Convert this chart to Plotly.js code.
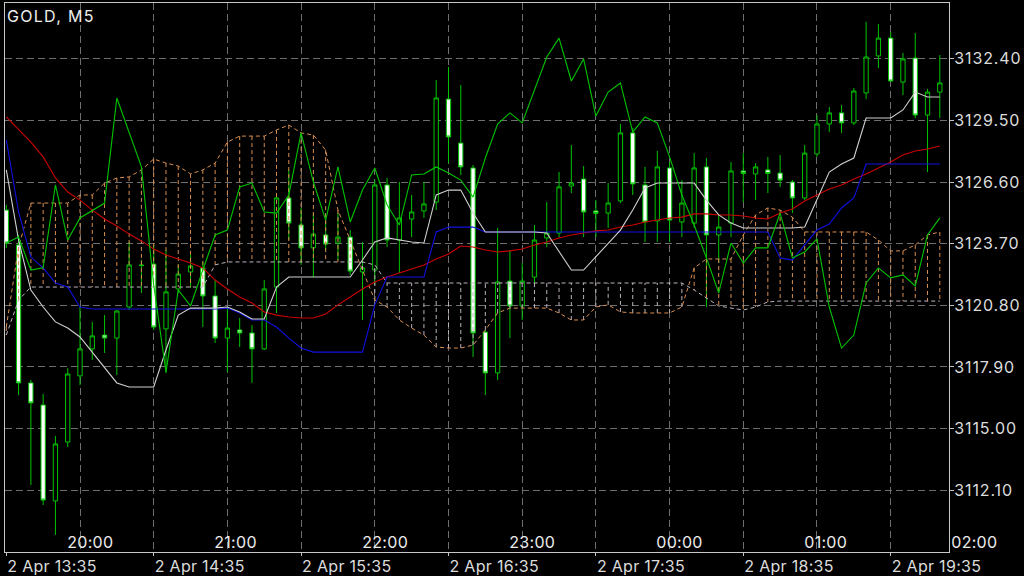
<!DOCTYPE html>
<html><head><meta charset="utf-8">
<script src="https://cdn.plot.ly/plotly-3.0.1.min.js"></script>
<style>html,body{margin:0;padding:0;background:#000;}#chart{width:1024px;height:576px;}
#chart .gtitle{letter-spacing:1.3px;}
#chart .ytick text{letter-spacing:0.9px;}
#chart .xtick text{letter-spacing:0.3px;}
#chart .annotation-text{letter-spacing:0.3px;}
</style>
</head><body><div id="chart"></div>
<script>
// ---- data (GOLD, M5) ----
const opens = [3125.28,3123.64,3117.15,3116.11,3111.60,3114.37,3117.48,3118.75,3119.40,3119.26,
3120.72,3122.70,3122.74,3119.69,3121.57,3122.37,3122.56,3121.24,3119.26,3119.64,
3119.50,3118.75,3121.66,3125.85,3124.58,3123.50,3124.11,3123.73,3124.01,3122.37,
3122.46,3126.46,3123.87,3124.86,3125.24,3125.66,3130.50,3128.43,3127.26,3119.54,
3117.62,3121.94,3120.77,3122.13,3123.97,3124.20,3126.41,3126.74,3125.24,3125.14,
3125.71,3128.91,3126.46,3124.77,3127.26,3124.72,3124.67,3127.31,3124.11,3124.67,
3127.12,3126.98,3127.17,3127.02,3126.60,3125.85,3127.92,3129.33,3129.85,3129.38,
3130.79,3132.53,3133.37,3131.30,3132.43,3129.75,3130.83];
const highs = [3125.52,3124.11,3117.29,3116.63,3114.65,3117.85,3120.72,3120.02,3120.34,3120.58,
3123.78,3122.93,3123.64,3123.40,3122.70,3123.17,3122.84,3121.99,3120.67,3120.20,
3119.87,3121.99,3125.99,3127.17,3125.38,3125.14,3124.81,3125.14,3124.34,3123.78,
3126.69,3126.79,3126.60,3125.99,3126.60,3131.40,3132.01,3131.16,3127.40,3119.64,
3124.44,3123.40,3122.79,3124.58,3125.66,3127.07,3128.34,3127.35,3125.75,3126.55,
3129.33,3129.14,3127.31,3128.06,3127.54,3126.69,3127.96,3127.73,3125.05,3127.54,
3127.96,3127.49,3127.78,3127.87,3126.69,3128.34,3129.75,3130.13,3130.22,3131.02,
3134.13,3134.03,3133.66,3132.67,3133.61,3130.98,3132.57];
const lows = [3123.50,3116.58,3112.35,3111.41,3110.00,3114.14,3117.05,3118.23,3118.56,3117.52,
3120.58,3121.38,3119.64,3117.62,3121.38,3121.61,3119.78,3119.03,3117.66,3118.84,
3117.15,3118.70,3120.44,3123.87,3122.70,3122.13,3123.40,3122.93,3122.23,3120.11,
3121.76,3123.54,3122.32,3124.01,3124.91,3125.28,3127.49,3126.93,3118.37,3116.58,
3117.29,3119.26,3120.11,3121.85,3123.54,3124.01,3126.08,3124.01,3124.01,3124.44,
3125.61,3125.99,3123.78,3123.78,3123.78,3124.01,3124.44,3120.72,3122.79,3124.01,
3125.66,3125.75,3126.08,3126.37,3125.14,3125.75,3127.78,3128.95,3128.91,3129.28,
3130.50,3131.96,3131.30,3130.69,3129.61,3127.07,3129.61];
const closes = [3123.73,3117.15,3116.21,3111.64,3114.28,3117.57,3118.75,3119.36,3119.26,3120.53,
3122.70,3122.67,3119.78,3121.43,3122.27,3122.65,3121.24,3119.26,3119.73,3119.50,
3118.75,3121.57,3125.85,3124.67,3123.50,3124.15,3123.68,3124.01,3122.41,3122.56,
3126.46,3123.87,3124.91,3125.19,3125.57,3130.55,3128.72,3127.31,3119.50,3117.62,
3121.90,3120.77,3121.94,3123.87,3124.20,3126.37,3126.55,3125.19,3125.12,3125.61,
3128.91,3126.51,3124.72,3127.31,3124.81,3125.61,3127.26,3124.11,3124.48,3127.12,
3127.00,3127.31,3127.00,3126.69,3125.85,3127.96,3129.33,3129.85,3129.38,3130.88,
3132.48,3133.37,3131.35,3132.39,3129.75,3130.83,3131.26];
// Tenkan-sen (white)
const tenkan = [3127.17,3123.87,3121.52,3120.72,3120.02,3119.73,3119.31,3118.60,3117.85,3117.15,
3116.96,3116.96,3116.96,3118.70,3120.34,3120.67,3120.67,3120.67,3120.72,3120.49,
3120.16,3120.16,3121.66,3122.13,3122.13,3122.13,3122.13,3122.13,3122.13,3122.93,
3123.78,3123.97,3123.87,3123.78,3123.73,3125.99,3126.22,3126.22,3125.14,3124.25,
3124.25,3124.25,3124.25,3124.25,3124.20,3123.31,3122.46,3122.46,3123.07,3123.73,
3124.34,3125.28,3126.32,3126.55,3126.55,3126.55,3126.55,3125.75,3125.05,3124.67,
3124.44,3124.44,3124.44,3124.44,3124.44,3124.48,3125.75,3127.07,3127.45,3127.73,
3129.61,3129.61,3129.61,3129.99,3130.83,3130.60,3130.60];
// Kijun-sen (blue)
const kijun = [3128.58,3125.19,3123.07,3122.56,3121.85,3121.66,3120.72,3120.63,3120.63,3120.63,
3120.63,3120.63,3120.63,3120.63,3120.63,3120.63,3120.63,3120.63,3120.67,3120.44,
3120.11,3120.11,3119.78,3119.26,3118.79,3118.60,3118.60,3118.60,3118.60,3118.60,
3120.82,3122.13,3122.13,3122.13,3122.13,3124.25,3124.48,3124.48,3124.48,3124.25,
3124.25,3124.25,3124.25,3124.25,3124.25,3124.25,3124.25,3124.25,3124.25,3124.25,
3124.25,3124.25,3124.25,3124.25,3124.25,3124.25,3124.25,3124.25,3124.25,3124.25,
3124.25,3124.25,3124.25,3123.03,3122.93,3123.64,3124.34,3124.62,3125.38,3125.85,
3127.45,3127.45,3127.45,3127.45,3127.45,3127.45,3127.45];
// Moving average (red)
const maLine = [3129.66,3129.05,3128.48,3127.78,3126.79,3126.13,3125.75,3125.28,3124.86,3124.53,
3124.15,3123.83,3123.45,3123.17,3122.98,3122.79,3122.56,3121.99,3121.57,3121.19,
3120.91,3120.49,3120.34,3120.25,3120.20,3120.20,3120.39,3120.82,3121.19,3121.57,
3121.90,3122.13,3122.32,3122.51,3122.70,3122.98,3123.21,3123.59,3123.54,3123.40,
3123.31,3123.36,3123.45,3123.64,3123.78,3123.97,3124.11,3124.20,3124.30,3124.34,
3124.48,3124.58,3124.72,3124.81,3124.91,3124.95,3125.10,3125.10,3125.05,3125.05,
3125.00,3124.91,3124.86,3125.14,3125.33,3125.71,3125.99,3126.27,3126.46,3126.74,
3126.98,3127.26,3127.54,3127.87,3128.06,3128.15,3128.29];
// Chikou span (green)
const chikou = [3123.73,3124.01,3122.46,3122.56,3126.46,3123.87,3124.91,3125.28,3125.61,3130.55,
3128.91,3127.31,3121.76,3117.66,3121.52,3120.77,3122.46,3124.11,3124.34,3126.37,
3126.55,3125.19,3125.14,3125.99,3128.91,3126.60,3124.81,3127.31,3124.72,3126.22,
3127.26,3125.52,3124.58,3126.93,3126.98,3127.31,3127.02,3126.69,3125.89,3127.73,
3129.33,3129.85,3129.38,3130.93,3132.48,3133.37,3131.35,3132.39,3129.70,3130.83,
3131.26,3128.95,3129.66,3129.38,3127.78,3125.99,3124.58,3123.03,3121.38,3123.73,
3122.79,3123.50,3123.50,3125.14,3123.03,3123.31,3123.92,3120.72,3118.79,3119.40,
3121.85,3122.56,3122.09,3122.23,3121.71,3124.11,3124.91];
// Senkou span A (sandy brown) and B (thistle)
const spanA = [3119.78,3123.54,3125.61,3125.61,3125.61,3125.61,3125.99,3125.99,3126.55,3126.79,
3126.84,3127.17,3127.68,3127.49,3127.35,3126.98,3127.17,3127.49,3128.48,3128.76,
3128.76,3128.76,3129.05,3129.28,3128.91,3128.81,3128.10,3125.28,3123.87,3122.46,
3121.05,3120.72,3120.11,3119.73,3119.40,3118.84,3118.79,3118.79,3118.93,3119.64,
3120.44,3120.67,3120.67,3120.67,3120.67,3120.44,3120.11,3120.11,3120.72,3120.82,
3120.49,3120.44,3120.44,3120.44,3120.44,3120.72,3122.56,3122.98,3122.98,3122.98,
3124.11,3125.05,3125.38,3125.28,3124.95,3124.25,3124.25,3124.25,3124.25,3124.25,
3124.25,3123.87,3123.36,3123.36,3123.64,3124.11,3124.25];
const spanB = [3119.40,3121.05,3121.66,3121.66,3121.66,3121.66,3121.66,3121.66,3121.66,3121.66,
3121.66,3121.66,3121.66,3121.66,3121.66,3121.66,3121.66,3122.70,3122.84,3122.84,
3122.84,3122.84,3122.84,3122.84,3122.84,3122.84,3122.84,3122.84,3122.84,3122.84,
3122.70,3121.85,3121.85,3121.85,3121.85,3121.85,3121.85,3121.85,3121.85,3121.85,
3121.85,3121.85,3121.85,3121.85,3121.85,3121.85,3121.85,3121.85,3121.85,3121.85,
3121.85,3121.85,3121.85,3121.85,3121.85,3121.85,3121.52,3121.14,3120.77,3120.67,
3120.58,3120.72,3120.96,3121.00,3121.00,3121.00,3121.00,3121.00,3121.00,3121.00,
3121.00,3121.00,3121.00,3121.00,3121.00,3121.00,3121.00];
const timeTickBars = [0,12,24,36,48,60,72];
const timeLabels = ["2 Apr 13:35","2 Apr 14:35","2 Apr 15:35","2 Apr 16:35","2 Apr 17:35","2 Apr 18:35","2 Apr 19:35"];
const hourLabels = ["20:00","21:00","22:00","23:00","00:00","01:00","02:00"];
const priceTicks = [3112.10,3115.00,3117.90,3120.80,3123.70,3126.60,3129.50,3132.40];

// ---- build ----
const bars = opens.map((_, i) => i);
const XR = [-0.106, 76.748];
const YR = [3109.197, 3135.020];
const FONT = 'Inter, "Noto Sans", sans-serif';
const GREEN = '#00c400';
const ORANGE = '#d98f52';
const THISTLE = '#bdb2bd';
const GRID = '#6e6e6e';

function hatch(upper) {
  const xs = [], ys = [];
  spanA.forEach((a, i) => {
    const b = spanB[i];
    if ((a >= b) === upper) { xs.push(i, i, null); ys.push(a, b, null); }
  });
  return {xs, ys};
}
const hUp = hatch(true), hDn = hatch(false);

const traces = [
  {type:'scatter', mode:'lines', x:hUp.xs, y:hUp.ys, line:{color:ORANGE, width:1, dash:'4px,3px'}, hoverinfo:'skip', connectgaps:false},
  {type:'scatter', mode:'lines', x:hDn.xs, y:hDn.ys, line:{color:THISTLE, width:1, dash:'4px,3px'}, hoverinfo:'skip', connectgaps:false},
  {type:'scatter', mode:'lines', x:bars, y:spanA, line:{color:ORANGE, width:1, dash:'4px,3px'}, hoverinfo:'skip'},
  {type:'scatter', mode:'lines', x:bars, y:spanB, line:{color:THISTLE, width:1, dash:'4px,3px'}, hoverinfo:'skip'},
  {type:'candlestick', x:bars, open:opens, high:highs, low:lows, close:closes,
   increasing:{line:{color:GREEN, width:1}, fillcolor:'#000000'},
   decreasing:{line:{color:GREEN, width:1}, fillcolor:'#ffffff'},
   whiskerwidth:0, hoverinfo:'skip'},
  {type:'scatter', mode:'lines', x:bars, y:maLine, line:{color:'#cc0000', width:1.1}, hoverinfo:'skip'},
  {type:'scatter', mode:'lines', x:bars, y:kijun, line:{color:'#1010e0', width:1.1}, hoverinfo:'skip'},
  {type:'scatter', mode:'lines', x:bars, y:tenkan, line:{color:'#d0d0d0', width:1.1}, hoverinfo:'skip'},
  {type:'scatter', mode:'lines', x:bars, y:chikou, line:{color:GREEN, width:1.1}, hoverinfo:'skip'}
];

const minorGrid = [];
for (let b = 6; b <= XR[1]; b += 6) minorGrid.push(b);

const annotations = hourLabels.map((t, k) => ({
  text: t, xref:'paper', yref:'paper',
  x: (5 + 12 * k - XR[0]) / (XR[1] - XR[0]), y: 0,
  xanchor:'left', yanchor:'bottom', showarrow:false, yshift:-2, xshift:-2,
  font:{family:FONT, size:16, color:'#ececec'}
}));

const layout = {
  width:1024, height:576,
  paper_bgcolor:'#000000', plot_bgcolor:'#000000',
  margin:{l:5, r:75, t:3, b:24},
  showlegend:false,
  boxgap:0.5,
  title:{text:'GOLD, M5', xref:'container', yref:'container', x:7/1024, xanchor:'left', y:1-16/576, yanchor:'middle',
         font:{family:FONT, size:16, color:'#eeeeee'}},
  xaxis:{range:XR, rangeslider:{visible:false}, tickmode:'array', tickvals:timeTickBars, ticktext:timeLabels,
         ticks:'outside', ticklen:3, tickcolor:'#c0c0c0', ticklabelposition:'outside right',
         showgrid:false, zeroline:false, showline:true, mirror:true, linecolor:'#c8c8c8', linewidth:1,
         tickfont:{family:FONT, size:16, color:'#dcdcdc'},
         minor:{tickmode:'array', tickvals:minorGrid, showgrid:true, gridcolor:GRID, griddash:'7px,4px', gridwidth:1, ticks:''},
         fixedrange:true},
  yaxis:{range:YR, side:'right', tickmode:'array', tickvals:priceTicks, tickformat:'.2f',
         ticks:'outside', ticklen:4, tickcolor:'#c0c0c0', ticklabelstandoff:-3,
         showgrid:true, gridcolor:GRID, griddash:'7px,4px', gridwidth:1,
         zeroline:false, showline:true, mirror:true, linecolor:'#c8c8c8', linewidth:1,
         tickfont:{family:FONT, size:16, color:'#dcdcdc'}, fixedrange:true},
  annotations
};

Plotly.newPlot('chart', traces, layout, {displayModeBar:false, staticPlot:true});
</script>
</body></html>
